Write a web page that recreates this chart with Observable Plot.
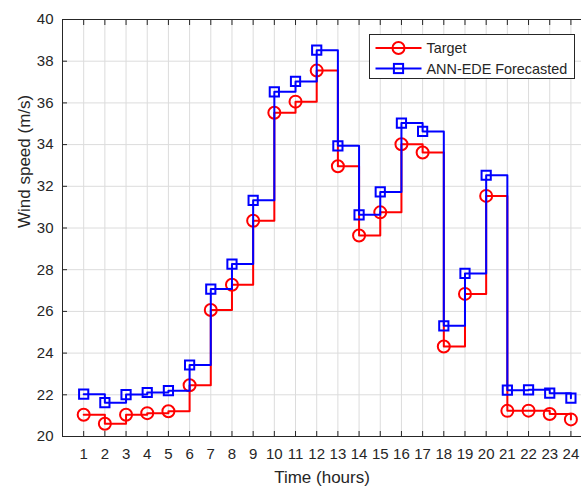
<!DOCTYPE html>
<html>
<head>
<meta charset="utf-8">
<script src="https://cdn.jsdelivr.net/npm/d3@7"></script>
<script src="https://cdn.jsdelivr.net/npm/@observablehq/plot@0.6"></script>
<style>
  html, body { margin: 0; padding: 0; background: #fff; }
  #chart svg { display: block; }
</style>
</head>
<body>
<div id="chart"></div>
<script>
// Hourly wind speed: measured target vs. ANN-EDE forecast
const hours = d3.range(1, 25);
const target = [21.04, 20.61, 21.04, 21.12, 21.21, 22.46, 26.07, 27.28, 30.35, 35.53, 36.06, 37.55,
                32.96, 29.64, 30.75, 34.02, 33.62, 24.32, 26.84, 31.54, 21.23, 21.24, 21.08, 20.82];
const forecast = [22.03, 21.62, 22.01, 22.11, 22.2, 23.43, 27.07, 28.27, 31.33, 36.53, 37.03, 38.53,
                  33.94, 30.63, 31.73, 35.03, 34.63, 25.31, 27.82, 32.53, 22.22, 22.24, 22.08, 21.84];
const xTicks = hours;
const yTicks = d3.range(20, 41, 2);
const seriesNames = ["Target", "ANN-EDE Forecasted"];
const seriesColors = ["#ff0000", "#0000ff"];
const axisLabels = {x: "Time (hours)", y: "Wind speed (m/s)"};

const rowsT = hours.map((h, i) => ({h, v: target[i]}));
const rowsF = hours.map((h, i) => ({h, v: forecast[i]}));

const ink = "#262626";
const font = "Liberation Sans, Arial, Helvetica, sans-serif";

const chart = Plot.plot({
  width: 581,
  height: 486,
  marginLeft: 62,
  marginRight: 0,
  marginTop: 19,
  marginBottom: 50,
  style: {fontFamily: font, fontSize: "15px", color: ink, background: "#fff"},
  x: {domain: [0, 24.5]},
  y: {domain: [20, 40]},
  marks: [
    Plot.gridX(xTicks, {stroke: "#dcdcdc", strokeOpacity: 1}),
    Plot.gridY(yTicks, {stroke: "#dcdcdc", strokeOpacity: 1}),
    Plot.frame({stroke: ink, strokeWidth: 1}),
    // inward tick marks on the box
    Plot.axisX(xTicks, {anchor: "bottom", tickSize: -5, tickFormat: () => "", label: null, stroke: ink}),
    Plot.axisX(xTicks, {anchor: "top", tickSize: -5, tickFormat: () => "", label: null, stroke: ink}),
    Plot.axisY(yTicks, {anchor: "left", tickSize: -5, tickFormat: () => "", label: null, stroke: ink}),
    // tick labels
    Plot.axisX(xTicks, {anchor: "bottom", tickSize: 0, tickPadding: 12, label: null, fill: ink, fontSize: 15}),
    Plot.axisY(yTicks, {anchor: "left", tickSize: 0, tickPadding: 9, label: null, fill: ink, fontSize: 15}),
    // axis titles
    Plot.text([axisLabels.x], {frameAnchor: "bottom", dy: 41, lineAnchor: "middle", fill: ink, fontSize: 17, text: d => d}),
    Plot.text([axisLabels.y], {frameAnchor: "left", dx: -38, rotate: -90, lineAnchor: "middle", fill: ink, fontSize: 17, text: d => d}),
    // series
    Plot.line(rowsT, {x: "h", y: "v", curve: "step-after", stroke: seriesColors[0], strokeWidth: 2}),
    Plot.dot(rowsT, {x: "h", y: "v", symbol: "circle", r: 6, stroke: seriesColors[0], strokeWidth: 2, fill: "none"}),
    Plot.line(rowsF, {x: "h", y: "v", curve: "step-after", stroke: seriesColors[1], strokeWidth: 2}),
    Plot.dot(rowsF, {x: "h", y: "v", symbol: "square", r: 5.2, stroke: seriesColors[1], strokeWidth: 2, fill: "none"})
  ]
});

// legend box in the upper right of the axes
const svg = d3.select(chart);
const lg = svg.append("g").attr("transform", "translate(369.5,34.5)");
lg.append("rect").attr("width", 205).attr("height", 44)
  .attr("fill", "#fff").attr("stroke", ink).attr("stroke-width", 1);
seriesNames.forEach((name, i) => {
  const y = 13.5 + i * 20.5;
  const row = lg.append("g").attr("transform", `translate(0,${y})`);
  row.append("line").attr("x1", 6).attr("x2", 52).attr("y1", 0).attr("y2", 0)
    .attr("stroke", seriesColors[i]).attr("stroke-width", 2);
  if (i === 0) {
    row.append("circle").attr("cx", 29).attr("cy", 0).attr("r", 6)
      .attr("fill", "none").attr("stroke", seriesColors[i]).attr("stroke-width", 2);
  } else {
    row.append("rect").attr("x", 29 - 4.6).attr("y", -4.6).attr("width", 9.2).attr("height", 9.2)
      .attr("fill", "none").attr("stroke", seriesColors[i]).attr("stroke-width", 2);
  }
  row.append("text").attr("x", 57).attr("y", 0).attr("dy", "0.35em")
    .attr("text-anchor", "start")
    .attr("fill", ink).attr("font-size", 14.4).attr("font-family", font).text(name);
});

document.getElementById("chart").appendChild(chart);
</script>
</body>
</html>
